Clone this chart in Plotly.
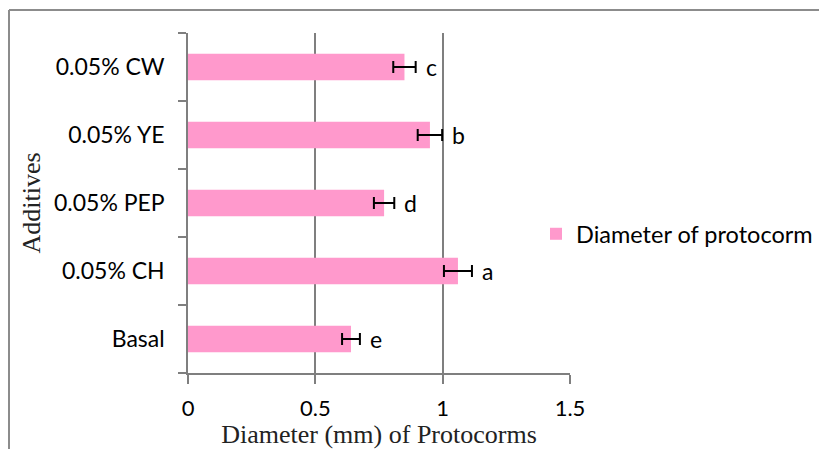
import plotly.graph_objects as go

categories = ["Basal", "0.05% CH", "0.05% PEP", "0.05% YE", "0.05% CW"]
diameter = [0.64, 1.06, 0.77, 0.95, 0.85]
errors = [0.035, 0.055, 0.04, 0.048, 0.044]
letters = ["e", "a", "d", "b", "c"]

# page offset: the browser body has an 8px margin
OFF = 8
W, H = 827 - 2 * OFF, 457 - 2 * OFF
L, T = 188 - OFF, 33 - OFF
R = W - (570 - OFF)
B = H - (373 - OFF)
pw, ph = W - L - R, H - T - B
SANS = "Lato, Open Sans, sans-serif"
SERIF = "Liberation Serif, Times New Roman, serif"

fig = go.Figure()
fig.add_trace(go.Bar(
    y=categories, x=diameter, orientation="h",
    marker=dict(color="#FF99CC", line=dict(width=0)),
    error_x=dict(type="data", array=errors, visible=True, color="black", thickness=2, width=6),
    name="Diameter of protocorm",
    width=0.39,
))

for c, v, e, l in zip(categories, diameter, errors, letters):
    fig.add_annotation(x=v + e, y=c, text=l, showarrow=False, xanchor="left",
                       xshift=8, font=dict(family=SANS, size=23, color="black"))

def px(x):
    # page x -> paper
    return (x - OFF - L) / pw

def py(y):
    # page y -> paper
    return (H - B - (y - OFF)) / ph

fig.add_shape(type="line", xref="paper", yref="paper", x0=px(9), x1=px(827), y0=py(10), y1=py(10),
              line=dict(color="#8c8c8c", width=2))
fig.add_shape(type="line", xref="paper", yref="paper", x0=px(9), x1=px(9), y0=py(10), y1=py(457),
              line=dict(color="#8c8c8c", width=2))

fig.update_layout(
    width=W, height=H,
    margin=dict(l=L, r=R, t=T, b=B, pad=0, autoexpand=False),
    paper_bgcolor="white", plot_bgcolor="white",
    showlegend=True,
    legend=dict(x=px(536), y=py(234), xanchor="left", yanchor="middle",
                bgcolor="rgba(0,0,0,0)", font=dict(family=SANS, size=23.5, color="black")),
    xaxis=dict(range=[0, 1.5], tickvals=[0, 0.5, 1, 1.5], ticktext=["0", "0.5", "1", "1.5"],
               automargin=False,
               showgrid=True, gridcolor="#7f7f7f", gridwidth=1.5,
               showline=True, linecolor="#7f7f7f", linewidth=1.5,
               ticks="outside", ticklen=9, tickcolor="#7f7f7f", tickwidth=1.5,
               ticklabelstandoff=6,
               tickfont=dict(family=SANS, size=22, color="black"),
               title=dict(text="Diameter (mm) of Protocorms", standoff=13,
                          font=dict(family=SERIF, size=26, color="#222")),
               zeroline=False),
    yaxis=dict(categoryorder="array", categoryarray=categories,
               automargin=False,
               showline=True, linecolor="#7f7f7f", linewidth=1.5, showgrid=False,
               ticks="outside", ticklen=8, tickcolor="#7f7f7f", tickwidth=1.5, tickson="boundaries",
               ticklabelstandoff=17,
               tickfont=dict(family=SANS, size=23, color="black"),
               title=dict(text="Additives", standoff=6,
                          font=dict(family=SERIF, size=26, color="#222"))),
)

fig.write_html("out.html", config={"displayModeBar": False})
